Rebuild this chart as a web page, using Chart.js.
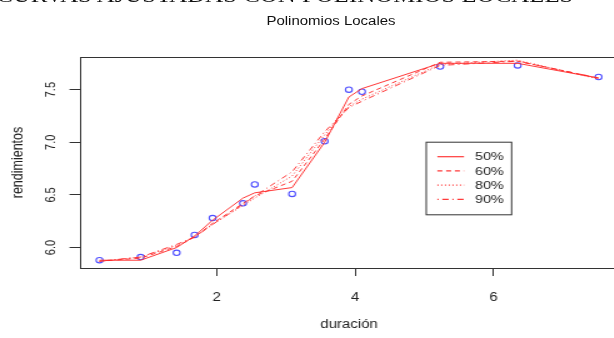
<!DOCTYPE html>
<html>
<head>
<meta charset="utf-8">
<script src="https://cdn.jsdelivr.net/npm/chart.js@4/dist/chart.umd.min.js"></script>
<style>
  html, body { margin: 0; padding: 0; background: #fff; overflow: hidden; width: 614px; height: 338px; }
  #wrap { position: absolute; left: 0; top: 0; width: 500px; height: 338px; transform: scaleX(1.25); transform-origin: 0 0; }
  #c { position: absolute; left: 0; top: 0; width: 500px; height: 338px; }
  #head { position: absolute; left: -3px; top: -15.5px; font: 19.9px "Liberation Serif", "Times New Roman", serif; line-height: 20px; white-space: nowrap; color: #111; }
  #title { position: absolute; left: 264.8px; top: 14.5px; transform: translateX(-50%); font: 12px "Liberation Sans", Arial, sans-serif; line-height: 12px; white-space: nowrap; color: #111; }
</style>
</head>
<body>
<div id="wrap">
  <canvas id="c" width="500" height="338"></canvas>
  <div id="head">CURVAS AJUSTADAS CON POLINOMIOS LOCALES</div>
  <div id="title">Polinomios Locales</div>
</div>
<script>
// ---- data ----
const duracion     = [0.305, 0.90, 1.42, 1.68, 1.94, 2.38, 2.55, 3.09, 3.56, 3.91, 4.10, 5.23, 6.35, 7.52];
const rendimientos = [5.88, 5.91, 5.95, 6.12, 6.28, 6.42, 6.60, 6.51, 7.01, 7.50, 7.48, 7.72, 7.73, 7.62];
const ajuste50 = [5.88, 5.88, 6.00, 6.11, 6.26, 6.47, 6.52, 6.57, 7.00, 7.43, 7.51, 7.75, 7.75, 7.61];
const ajuste60 = [5.87, 5.90, 6.01, 6.10, 6.23, 6.42, 6.49, 6.63, 7.03, 7.36, 7.44, 7.76, 7.77, 7.61];
const ajuste80 = [5.87, 5.91, 6.02, 6.10, 6.22, 6.40, 6.47, 6.68, 7.07, 7.34, 7.41, 7.74, 7.78, 7.60];
const ajuste90 = [5.87, 5.91, 6.03, 6.10, 6.22, 6.41, 6.49, 6.72, 7.10, 7.33, 7.39, 7.73, 7.77, 7.61];
const seriesLabels = ['50%', '60%', '80%', '90%'];
const xTicks = [2, 4, 6];
const yTicks = [6.0, 6.5, 7.0, 7.5];
const xTitle = 'duración';
const yTitle = 'rendimientos';

const toXY = ys => duracion.map((x, i) => ({ x: x, y: ys[i] }));
const FONT = '"Liberation Sans", Arial, sans-serif';
const RED = 'rgba(255,40,40,0.92)';
const dashes = [[], [4, 3], [1, 2], [1, 3, 5, 3]];
const fits = [ajuste50, ajuste60, ajuste80, ajuste90];

const lineSets = fits.map((f, i) => ({
  type: 'line', label: seriesLabels[i], data: toXY(f),
  borderColor: RED, borderWidth: 1, borderDash: dashes[i],
  pointRadius: 0, tension: 0, fill: false, order: 1, isFit: true
}));
const pointSet = {
  type: 'line', label: 'datos', data: toXY(rendimientos), showLine: false,
  pointRadius: 2.7, pointBorderWidth: 1.1, pointBorderColor: '#5050ff',
  pointBackgroundColor: 'rgba(0,0,0,0)', order: 2
};

const boxPlugin = {
  id: 'box',
  afterDatasetsDraw(chart) {
    const a = chart.chartArea, ctx = chart.ctx;
    ctx.save();
    ctx.strokeStyle = '#333'; ctx.lineWidth = 1;
    ctx.strokeRect(Math.round(a.left) + 0.5, Math.round(a.top) + 0.5,
                   Math.round(a.right - a.left), Math.round(a.bottom - a.top));
    ctx.restore();
  }
};

const legendPlugin = {
  id: 'rlegend',
  afterDraw(chart) {
    const ctx = chart.ctx;
    const bx = 340.5, by = 141.7, bw = 68.3, bh = 72.6;
    ctx.save();
    ctx.fillStyle = '#fff';
    ctx.fillRect(bx, by, bw, bh);
    ctx.strokeStyle = '#333'; ctx.lineWidth = 1;
    ctx.strokeRect(bx + 0.5, by + 0.5, bw, bh);
    const sets = chart.data.datasets.filter(d => d.isFit);
    ctx.font = '11.5px ' + FONT;
    ctx.textBaseline = 'middle';
    ctx.textAlign = 'left';
    sets.forEach((d, i) => {
      const y = by + 15 + i * 14.2;
      ctx.strokeStyle = d.borderColor; ctx.lineWidth = 1.2;
      ctx.setLineDash(d.borderDash);
      ctx.beginPath(); ctx.moveTo(349.9, y); ctx.lineTo(371.2, y); ctx.stroke();
      ctx.setLineDash([]);
      ctx.fillStyle = '#222';
      ctx.fillText(d.label, 380, y + 0.5);
    });
    ctx.restore();
  }
};

new Chart(document.getElementById('c'), {
  data: { datasets: [...lineSets, pointSet] },
  options: {
    responsive: false, animation: false, devicePixelRatio: 1,
    layout: { padding: { top: 57, right: 2.4, bottom: 0, left: 0 } },
    plugins: { legend: { display: false }, tooltip: { enabled: false }, title: { display: false } },
    scales: {
      x: {
        type: 'linear', position: 'bottom', min: 0.016, max: 7.81,
        afterBuildTicks: s => { s.ticks = xTicks.map(v => ({ value: v })); },
        afterFit: s => { s.height = 70; },
        grid: { display: true, drawOnChartArea: false, drawTicks: true, tickLength: 8, tickColor: '#333', tickWidth: 1 },
        border: { display: false },
        ticks: { font: { size: 12, family: FONT }, color: '#222', padding: 14.8, maxRotation: 0, minRotation: 0 },
        title: { display: true, text: xTitle, font: { size: 12, family: FONT }, color: '#222', padding: { top: 0, bottom: 6 } }
      },
      y: {
        type: 'linear', position: 'left', min: 5.806, max: 7.81,
        afterBuildTicks: s => { s.ticks = yTicks.map(v => ({ value: v })); },
        afterFit: s => { s.width = 63.6; },
        grid: { display: true, drawOnChartArea: false, drawTicks: true, tickLength: 8, tickColor: '#333', tickWidth: 1 },
        border: { display: false },
        ticks: { font: { size: 11, family: FONT }, color: '#222', padding: 7.2, minRotation: 90, maxRotation: 90,
                 crossAlign: 'center', callback: v => Number(v).toFixed(1) },
        title: { display: true, text: yTitle, font: { size: 12.5, family: FONT }, color: '#222', padding: { top: 7.2, bottom: 0 } }
      }
    }
  },
  plugins: [boxPlugin, legendPlugin]
});
</script>
</body>
</html>
